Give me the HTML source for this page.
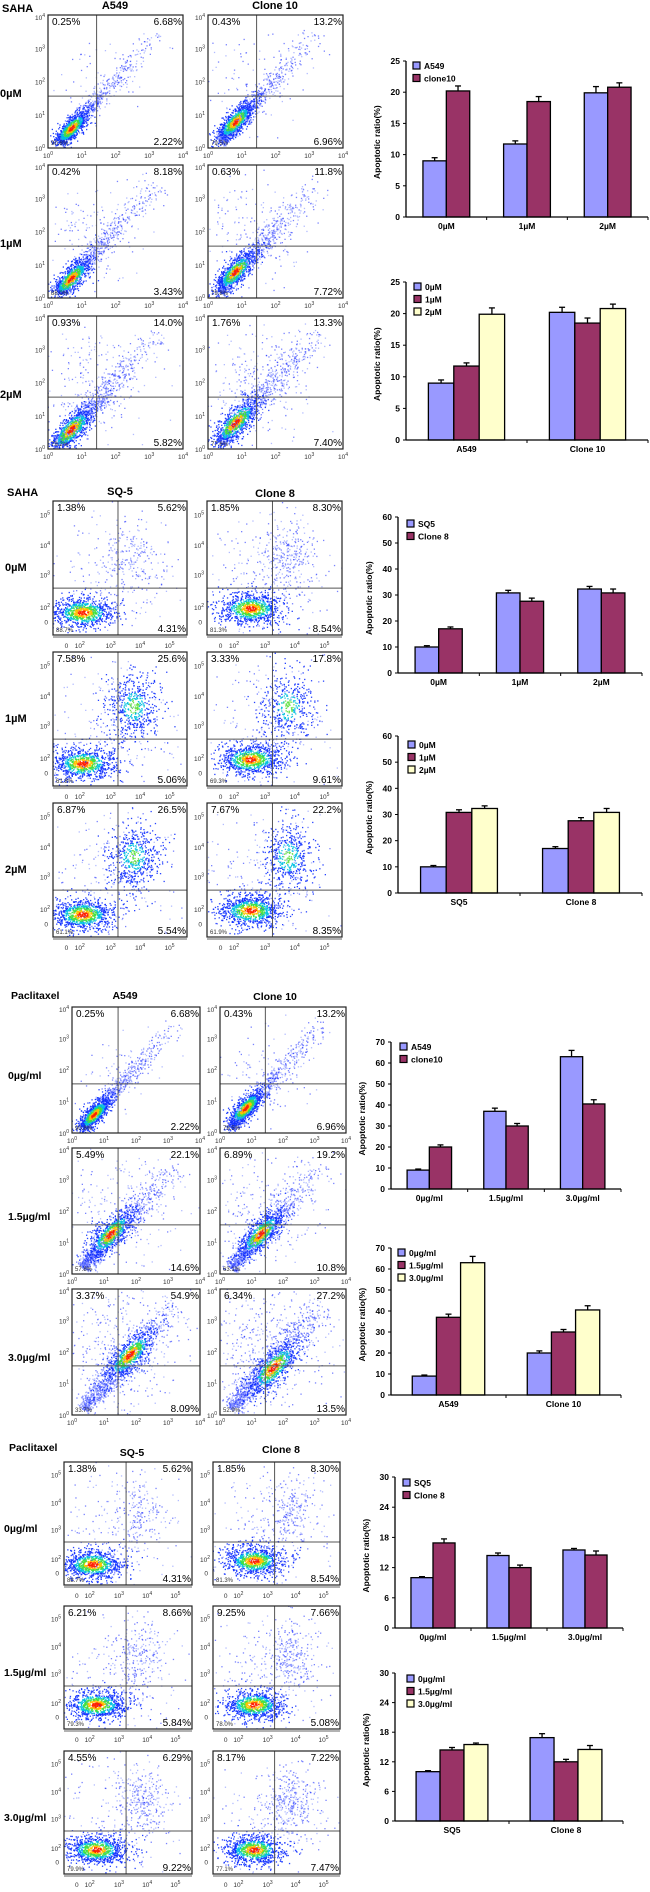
<!DOCTYPE html>
<html><head><meta charset="utf-8">
<style>
html,body{margin:0;padding:0;background:#fff;}
svg{display:block;font-family:"Liberation Sans",Arial,sans-serif;}
</style></head>
<body>
<svg id="fig" width="650" height="1892" viewBox="0 0 650 1892" xmlns="http://www.w3.org/2000/svg"></svg>
<script>
// ===== Bar chart data =====
const catDose = ["0µM","1µM","2µM"];
const catPac = ["0µg/ml","1.5µg/ml","3.0µg/ml"];
// Panel 1 (SAHA, A549 / clone10)
const p1A549 = [9.0, 11.7, 19.9];
const p1A549Err = [0.5, 0.5, 1.0];
const p1Clone10 = [20.2, 18.5, 20.8];
const p1Clone10Err = [0.8, 0.8, 0.7];
const p1Ticks = [0,5,10,15,20,25];
// Panel 2 (SAHA, SQ5 / Clone 8)
const p2SQ5 = [10.0, 30.8, 32.3];
const p2SQ5Err = [0.5, 1.0, 1.0];
const p2Clone8 = [17.0, 27.6, 30.8];
const p2Clone8Err = [0.7, 1.2, 1.5];
const p2Ticks = [0,10,20,30,40,50,60];
// Panel 3 (Paclitaxel, A549 / clone10)
const p3A549 = [9.0, 37.0, 63.0];
const p3A549Err = [0.5, 1.5, 3.0];
const p3Clone10 = [20.0, 30.0, 40.5];
const p3Clone10Err = [1.0, 1.2, 2.0];
const p3Ticks = [0,10,20,30,40,50,60,70];
// Panel 4 (Paclitaxel, SQ5 / Clone 8)
const p4SQ5 = [10.0, 14.4, 15.5];
const p4SQ5Err = [0.2, 0.5, 0.3];
const p4Clone8 = [16.9, 12.0, 14.5];
const p4Clone8Err = [0.8, 0.5, 0.8];
const p4Ticks = [0,6,12,18,24,30];

// ===== Flow quadrant percentages [UL, UR, LL, LR] =====
const f1A = [[0.25,6.68,90.8,2.22],[0.42,8.18,88.0,3.43],[0.93,14.0,79.2,5.82]];
const f1B = [[0.43,13.2,79.5,6.96],[0.63,11.8,79.8,7.72],[1.76,13.3,77.6,7.40]];
const f2A = [[1.38,5.62,88.7,4.31],[7.58,25.6,61.8,5.06],[6.87,26.5,61.1,5.54]];
const f2B = [[1.85,8.30,81.3,8.54],[3.33,17.8,69.3,9.61],[7.67,22.2,61.9,8.35]];
const f3A = [[0.25,6.68,90.8,2.22],[5.49,22.1,57.8,14.6],[3.37,54.9,33.7,8.09]];
const f3B = [[0.43,13.2,79.5,6.96],[6.89,19.2,63.1,10.8],[6.34,27.2,52.9,13.5]];
const f4A = [[1.38,5.62,88.7,4.31],[6.21,8.66,79.3,5.84],[4.55,6.29,79.9,9.22]];
const f4B = [[1.85,8.30,81.3,8.54],[9.25,7.66,78.0,5.08],[8.17,7.22,77.1,7.47]];

const NS = "http://www.w3.org/2000/svg";
const svg = document.getElementById("fig");
function el(tag, attrs, parent, txt){
  const e = document.createElementNS(NS, tag);
  for (const k in attrs) e.setAttribute(k, attrs[k]);
  if (txt !== undefined) e.textContent = txt;
  (parent||svg).appendChild(e);
  return e;
}

// seeded PRNG for decorative cytometry dot texture
let seed = 12345;
function rnd(){ seed |= 0; seed = seed + 0x6D2B79F5 | 0; let t = Math.imul(seed ^ seed >>> 15, 1 | seed); t = t + Math.imul(t ^ t >>> 7, 61 | t) ^ t; return ((t ^ t >>> 14) >>> 0) / 4294967296; }
function gauss(){ let u = rnd()||1e-6, v = rnd(); return Math.sqrt(-2*Math.log(u))*Math.cos(2*Math.PI*v); }

function text(x,y,s,size,opts,parent){
  opts = opts||{};
  const t = el("text",{x:x,y:y,"font-size":size,"font-weight":opts.bold?"bold":"normal","text-anchor":opts.anchor||"start",fill:opts.fill||"#000"},parent,s);
  if (opts.rot) t.setAttribute("transform","rotate(-90 "+x+" "+y+")");
  return t;
}
function pow10(x,y,exp,anchor,parent){
  const t = el("text",{x:x,y:y,"font-size":6.5,"text-anchor":anchor||"middle",fill:"#333"},parent);
  
  
  t.appendChild(document.createTextNode("10"));
  el("tspan",{dy:-3,"font-size":5},t,String(exp));
  return t;
}
function pctText(v){ return (v>=10? v.toFixed(1) : v.toFixed(2)) + "%"; }

function colorFor(r, level){
  // level 1: full heat map, 2: up to green, 0: blue only
  if (level===1){
    if (r<0.35) return "#ff2000"; if (r<0.6) return "#ffc000"; if (r<0.9) return "#40e040"; if (r<1.2) return "#00c0e0"; return "#1030ff";
  }
  if (level===2){
    if (r<0.4) return "#60e040"; if (r<0.8) return "#00c0e0"; return "#1030ff";
  }
  return rnd()<0.5 ? "#2030ff" : "#8090ff";
}

function flowPlot(name, px, py, w, h, kind, pcts, clusters){
  const g = el("g",{});
  
  
  const qx = kind==="log" ? 0.36 : 0.485;
  const qy = kind==="log" ? 0.61 : 0.65;
  const clipId = "c"+name;
  const cp = el("clipPath",{id:clipId},g);
  el("rect",{x:px,y:py,width:w,height:h},cp);
  const dg = el("g",{"clip-path":"url(#"+clipId+")"},g);
  clusters.forEach(c=>{
    for (let i=0;i<c.n;i++){
      let x,y,r;
      if (c.type==="band"){
        let t = -Math.log(rnd()||1e-6)*c.decay; if (t>1) t = rnd();
        const off = gauss()*c.w*(1+t*1.5);
        x = c.x0 + (c.x1-c.x0)*t + off*0.75;
        y = c.y0 + (c.y1-c.y0)*t + off*0.67;
        r = 9;
      } else if (c.type==="diag"){
        const a = gauss(), b = gauss();
        x = c.cx + a*c.s1*0.7 + b*c.s2*0.7;
        y = c.cy - a*c.s1*0.75 + b*c.s2*0.7;
        r = Math.sqrt(a*a+b*b);
      } else {
        const a = gauss(), b = gauss();
        x = c.cx + a*c.sx; y = c.cy + b*c.sy;
        r = Math.sqrt(a*a+b*b);
      }
      const col = colorFor(r, c.hot||0);
      el("rect",{x:(px+x*w).toFixed(1),y:(py+y*h).toFixed(1),width:1.3,height:1.3,fill:col,"fill-opacity":c.hot?0.9:0.6},dg);
    }
  });
  el("line",{x1:px+qx*w,y1:py,x2:px+qx*w,y2:py+h,stroke:"#555","stroke-width":1},g);
  el("line",{x1:px,y1:py+qy*h,x2:px+w,y2:py+qy*h,stroke:"#555","stroke-width":1},g);
  el("rect",{x:px,y:py,width:w,height:h,fill:"none",stroke:"#222","stroke-width":1.2},g);
  const t1 = text(px+4,py+10,pctText(pcts[0]),10,{},g);
   
  const t2 = text(px+w-1,py+10,pctText(pcts[1]),10,{anchor:"end"},g);
   
  const t3 = text(px+3,py+h-3,pcts[2].toFixed(1)+"%",6,{fill:"#333"},g);
   
  const t4 = text(px+w-1,py+h-3,pctText(pcts[3]),10,{anchor:"end"},g);
   
  if (kind==="log"){
    for (let i=0;i<=4;i++){
      pow10(px-3, py + h*(i/4) + 3 - (i===0? -2:0) , 4-i, "end", g);
      pow10(px + w*(i/4), py+h+10, i, "middle", g);
    }
  } else {
    [[0.1,5],[0.33,4],[0.55,3],[0.79,2]].forEach(p=>pow10(px-3, py+h*p[0]+3, p[1], "end", g));
    text(px-5, py+h*0.9+3, "0", 6.5, {anchor:"end",fill:"#333"}, g);
    text(px+w*0.1, py+h+13, "0", 6.5, {anchor:"middle",fill:"#333"}, g);
    [[0.2,2],[0.43,3],[0.65,4],[0.87,5]].forEach(p=>pow10(px+w*p[0], py+h+13, p[1], "middle", g));
    el("line",{x1:px,y1:py+h+2,x2:px+w,y2:py+h+2,stroke:"#333","stroke-width":0.8},g);
  }
}

// cluster presets (decorative texture)
function logClusters(spread, coreX, coreY, extraN){
  return [
    {type:"band",x0:0.08,y0:0.95,x1:0.82,y1:0.12,w:0.02*spread,decay:0.3*spread,n:900},
    {type:"blob",cx:0.35,cy:0.5,sx:0.16*spread,sy:0.16*spread,n:extraN,hot:0},
    {type:"diag",cx:coreX,cy:coreY,s1:0.09*spread,s2:0.035*spread,n:700,hot:1}
  ];
}
function linClusters(cx, cy, upperN, upperHot){
  const c = [
    {type:"blob",cx:cx,cy:cy,sx:0.12,sy:0.06,n:900,hot:1},
    {type:"blob",cx:0.45,cy:0.55,sx:0.25,sy:0.25,n:220,hot:0}
  ];
  if (upperN) c.push({type:"blob",cx:0.6,cy:0.4,sx:0.1,sy:0.13,n:upperN,hot:upperHot});
  return c;
}

// ===== Bar chart =====
const BLUE="#9999ff", MAROON="#993366", CREAM="#ffffcc";
function barChart(name, ax, right, yTop, yZero, ticks, cats, series, errs, colors, labels, legendX, legendY){
  const g = el("g",{});
  
  
  const maxV = ticks[ticks.length-1];
  const yS = v => yZero - (v/maxV)*(yZero-yTop);
  const nC = cats.length, cw = (right-ax)/nC;
  const nS = series.length;
  const bw = nS===2 ? cw*0.29 : cw*0.21;
  ticks.forEach(t=>{
    const y = yS(t);
    el("line",{x1:ax-3,y1:y,x2:ax,y2:y,stroke:"#000","stroke-width":1},g);
    const tl = text(ax-6,y+3,String(t),8.5,{bold:true,anchor:"end"},g);
     
  });
  for (let c=0;c<nC;c++){
    const cx = ax + cw*(c+0.5);
    const x0 = cx - bw*nS/2;
    for (let s=0;s<nS;s++){
      const v = series[s][c], e = errs[s][c];
      const bx = x0 + s*bw, by = yS(v);
      const ey = yS(v+e);
      el("line",{x1:bx+bw/2,y1:by,x2:bx+bw/2,y2:ey,stroke:"#000","stroke-width":1.3},g);
      el("line",{x1:bx+bw/2-3,y1:ey,x2:bx+bw/2+3,y2:ey,stroke:"#000","stroke-width":1.3},g);
      const r = el("rect",{x:bx,y:by,width:bw,height:yZero-by,fill:colors[s],stroke:"#000","stroke-width":1.3},g);
      
      
    }
    const cl = text(cx, yZero+12, cats[c], 8.5, {bold:true,anchor:"middle"}, g);
     
    if (c>0) el("line",{x1:ax+cw*c,y1:yZero,x2:ax+cw*c,y2:yZero+3,stroke:"#000","stroke-width":1},g);
  }
  el("line",{x1:ax,y1:yTop,x2:ax,y2:yZero,stroke:"#000","stroke-width":1.3},g);
  el("line",{x1:ax,y1:yZero,x2:right,y2:yZero,stroke:"#000","stroke-width":1.3},g);
  el("line",{x1:right,y1:yZero,x2:right,y2:yZero+3,stroke:"#000","stroke-width":1},g);
  const yt = text(ax-26,(yTop+yZero)/2+40,"Apoptotic ratio(%)",8.5,{bold:true,rot:true},g);
   
  for (let s=0;s<nS;s++){
    const lg = el("g",{},g);
    
    
    const ly = legendY + s*12.5;
    el("rect",{x:legendX,y:ly,width:7,height:7,fill:colors[s],stroke:"#000","stroke-width":1.2},lg);
    text(legendX+11,ly+7,labels[s],8.5,{bold:true},lg);
  }
}

function heading(s,x,y,size,name,anchor){
  const t = text(x,y,s,size||11,{bold:true,anchor:anchor||"start"});
  
  
}

// ===== Panel 1 =====
heading("SAHA",2,12,11,"panel1-drug-title");
heading("A549",115,9,11,"panel1-col-a549","middle");
heading("Clone 10",275,9,11,"panel1-col-clone10","middle");
const p1Rows=[15,165,316], p1Lab=["0µM","1µM","2µM"];
const p1SpA=[1,1.15,1.3], p1SpB=[1.1,1.2,1.35];
p1Rows.forEach((y,i)=>{
  heading(p1Lab[i],0,y+82,11,"panel1-row-label");
  flowPlot("p1a"+i,48,y,135,133,"log",f1A[i],logClusters(p1SpA[i],0.17,0.85,50+i*90));
  flowPlot("p1b"+i,208,y,135,133,"log",f1B[i],logClusters(p1SpB[i],0.2,0.8,90+i*80));
});
barChart("panel1-bar-by-dose",406,648,61,217,p1Ticks,catDose,[p1A549,p1Clone10],[p1A549Err,p1Clone10Err],[BLUE,MAROON],["A549","clone10"],413,62);
barChart("panel1-bar-by-line",406,648,282,440,p1Ticks,["A549","Clone 10"],
  [[p1A549[0],p1Clone10[0]],[p1A549[1],p1Clone10[1]],[p1A549[2],p1Clone10[2]]],
  [[p1A549Err[0],p1Clone10Err[0]],[p1A549Err[1],p1Clone10Err[1]],[p1A549Err[2],p1Clone10Err[2]]],
  [BLUE,MAROON,CREAM],["0µM","1µM","2µM"],414,283);

// ===== Panel 2 =====
heading("SAHA",7,496,11,"panel2-drug-title");
heading("SQ-5",120,495,11,"panel2-col-sq5","middle");
heading("Clone 8",275,497,11,"panel2-col-clone8","middle");
const p2Rows=[501,652,803];
const p2Up=[[150,0],[500,2],[520,2]], p2UpB=[[250,0],[400,2],[450,2]];
p2Rows.forEach((y,i)=>{
  heading(p1Lab[i],5,y+70,11,"panel2-row-label");
  flowPlot("p2a"+i,53,y,134,134,"lin",f2A[i],linClusters(0.22,0.83,p2Up[i][0],p2Up[i][1]));
  flowPlot("p2b"+i,207,y,135,134,"lin",f2B[i],linClusters(0.32,0.8,p2UpB[i][0],p2UpB[i][1]));
});
barChart("panel2-bar-by-dose",398,642,517,673,p2Ticks,catDose,[p2SQ5,p2Clone8],[p2SQ5Err,p2Clone8Err],[BLUE,MAROON],["SQ5","Clone 8"],407,520);
barChart("panel2-bar-by-line",398,642,736,893,p2Ticks,["SQ5","Clone 8"],
  [[p2SQ5[0],p2Clone8[0]],[p2SQ5[1],p2Clone8[1]],[p2SQ5[2],p2Clone8[2]]],
  [[p2SQ5Err[0],p2Clone8Err[0]],[p2SQ5Err[1],p2Clone8Err[1]],[p2SQ5Err[2],p2Clone8Err[2]]],
  [BLUE,MAROON,CREAM],["0µM","1µM","2µM"],408,741);

// ===== Panel 3 =====
heading("Paclitaxel",11,999,10.5,"panel3-drug-title");
heading("A549",125,999,10.5,"panel3-col-a549","middle");
heading("Clone 10",275,1000,10.5,"panel3-col-clone10","middle");
const p3Rows=[1007,1148,1289], p3Lab=["0µg/ml","1.5µg/ml","3.0µg/ml"];
const p3A=[[1,0.17,0.85],[1.4,0.3,0.68],[1.5,0.45,0.52]], p3B=[[1.1,0.2,0.8],[1.4,0.32,0.68],[1.6,0.42,0.62]];
p3Rows.forEach((y,i)=>{
  heading(p3Lab[i],8,y+72,10.5,"panel3-row-label");
  flowPlot("p3a"+i,72,y,128,126,"log",f3A[i],logClusters(p3A[i][0],p3A[i][1],p3A[i][2],60+i*170));
  flowPlot("p3b"+i,220,y,126,126,"log",f3B[i],logClusters(p3B[i][0],p3B[i][1],p3B[i][2],100+i*170));
});
barChart("panel3-bar-by-dose",391,621,1042,1189,p3Ticks,catPac,[p3A549,p3Clone10],[p3A549Err,p3Clone10Err],[BLUE,MAROON],["A549","clone10"],400,1043);
barChart("panel3-bar-by-line",391,621,1248,1395,p3Ticks,["A549","Clone 10"],
  [[p3A549[0],p3Clone10[0]],[p3A549[1],p3Clone10[1]],[p3A549[2],p3Clone10[2]]],
  [[p3A549Err[0],p3Clone10Err[0]],[p3A549Err[1],p3Clone10Err[1]],[p3A549Err[2],p3Clone10Err[2]]],
  [BLUE,MAROON,CREAM],["0µg/ml","1.5µg/ml","3.0µg/ml"],398,1249);

// ===== Panel 4 =====
heading("Paclitaxel",9,1451,10.5,"panel4-drug-title");
heading("SQ-5",132,1456,10.5,"panel4-col-sq5","middle");
heading("Clone 8",281,1453,10.5,"panel4-col-clone8","middle");
const p4Rows=[1462,1606,1751];
p4Rows.forEach((y,i)=>{
  heading(p3Lab[i],4,y+70,10.5,"panel4-row-label");
  flowPlot("p4a"+i,64,y,128,123,"lin",f4A[i],linClusters(i===0?0.22:0.25,i===0?0.83:0.8,120+i*60,0));
  flowPlot("p4b"+i,213,y,127,123,"lin",f4B[i],linClusters(0.32,0.8,200+i*40,0));
});
barChart("panel4-bar-by-dose",395,623,1477,1628,p4Ticks,catPac,[p4SQ5,p4Clone8],[p4SQ5Err,p4Clone8Err],[BLUE,MAROON],["SQ5","Clone 8"],403,1479);
barChart("panel4-bar-by-line",395,623,1673,1821,p4Ticks,["SQ5","Clone 8"],
  [[p4SQ5[0],p4Clone8[0]],[p4SQ5[1],p4Clone8[1]],[p4SQ5[2],p4Clone8[2]]],
  [[p4SQ5Err[0],p4Clone8Err[0]],[p4SQ5Err[1],p4Clone8Err[1]],[p4SQ5Err[2],p4Clone8Err[2]]],
  [BLUE,MAROON,CREAM],["0µg/ml","1.5µg/ml","3.0µg/ml"],407,1675);
</script>
</body></html>
